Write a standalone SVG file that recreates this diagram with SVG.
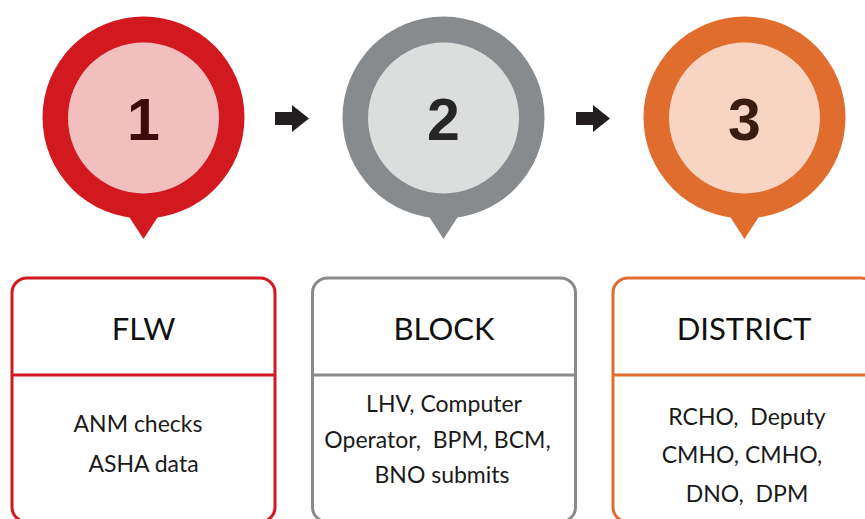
<svg xmlns="http://www.w3.org/2000/svg" width="865" height="519" viewBox="0 0 865 519">
<style>
.num{font-family:"Liberation Sans",Arial,sans-serif;font-weight:bold;font-size:59px;text-anchor:middle}
.title{font-family:Lato,"Open Sans",sans-serif;font-size:31px;text-anchor:middle;fill:#111}
.body{font-family:Lato,"Open Sans",sans-serif;font-size:23px;text-anchor:middle;fill:#1a1a1a}
.box{fill:#fff;stroke-width:3}
.arrow{fill:#231f20}
</style>
<rect width="865" height="519" fill="#fff"/>
<g id="node-1">
<circle cx="143.5" cy="117.5" r="101" fill="#d2191f"/>
<path d="M126 212 L143.5 239 L161 212 Z" fill="#d2191f"/>
<circle cx="143.5" cy="118" r="75.5" fill="#f2bfbf"/>
<text class="num" x="143.5" y="140" fill="#3c0a0c">1</text>
</g>
<g id="node-2">
<circle cx="443.5" cy="117.5" r="101" fill="#888b8d"/>
<path d="M426 212 L443.5 239 L461 212 Z" fill="#888b8d"/>
<circle cx="443.5" cy="118" r="75.5" fill="#dcdddd"/>
<text class="num" x="443.5" y="140" fill="#262626">2</text>
</g>
<g id="node-3">
<circle cx="744.5" cy="117.5" r="101" fill="#e06c2e"/>
<path d="M727 212 L744.5 239 L762 212 Z" fill="#e06c2e"/>
<circle cx="744.5" cy="118" r="75.5" fill="#f7d5c2"/>
<text class="num" x="744.5" y="140" fill="#3a1d0e">3</text>
</g>
<g id="connectors">
<path class="arrow" d="M275 112 H292 V105 L309 118.5 L292 132 V125 H275 Z"/>
<path class="arrow" d="M576 112 H593 V105 L610 118.5 L593 132 V125 H576 Z"/>
</g>
<g id="box-flw">
<rect class="box" x="12" y="278" width="263" height="244" rx="15" stroke="#d2191f"/>
<line x1="12" y1="375" x2="275" y2="375" stroke="#d2191f" stroke-width="3"/>
<text class="title" x="143.5" y="340">FLW</text>
<text class="body" x="138" y="432">ANM checks</text>
<text class="body" x="143.5" y="472">ASHA data</text>
</g>
<g id="box-block">
<rect class="box" x="312.5" y="278" width="263" height="244" rx="15" stroke="#888b8d"/>
<line x1="312.5" y1="375" x2="575.5" y2="375" stroke="#888b8d" stroke-width="3"/>
<text class="title" x="444" y="340">BLOCK</text>
<text class="body" x="444" y="412">LHV, Computer</text>
<text class="body" x="437.5" y="448" xml:space="preserve">Operator,  BPM, BCM,</text>
<text class="body" x="442" y="483">BNO submits</text>
</g>
<g id="box-district">
<rect class="box" x="613" y="278" width="263" height="244" rx="15" stroke="#e06c2e"/>
<line x1="613" y1="375" x2="876" y2="375" stroke="#e06c2e" stroke-width="3"/>
<text class="title" x="744" y="340">DISTRICT</text>
<text class="body" x="747" y="425" xml:space="preserve">RCHO,  Deputy</text>
<text class="body" x="742" y="463">CMHO, CMHO,</text>
<text class="body" x="747" y="502" xml:space="preserve">DNO,  DPM</text>
</g>
</svg>
